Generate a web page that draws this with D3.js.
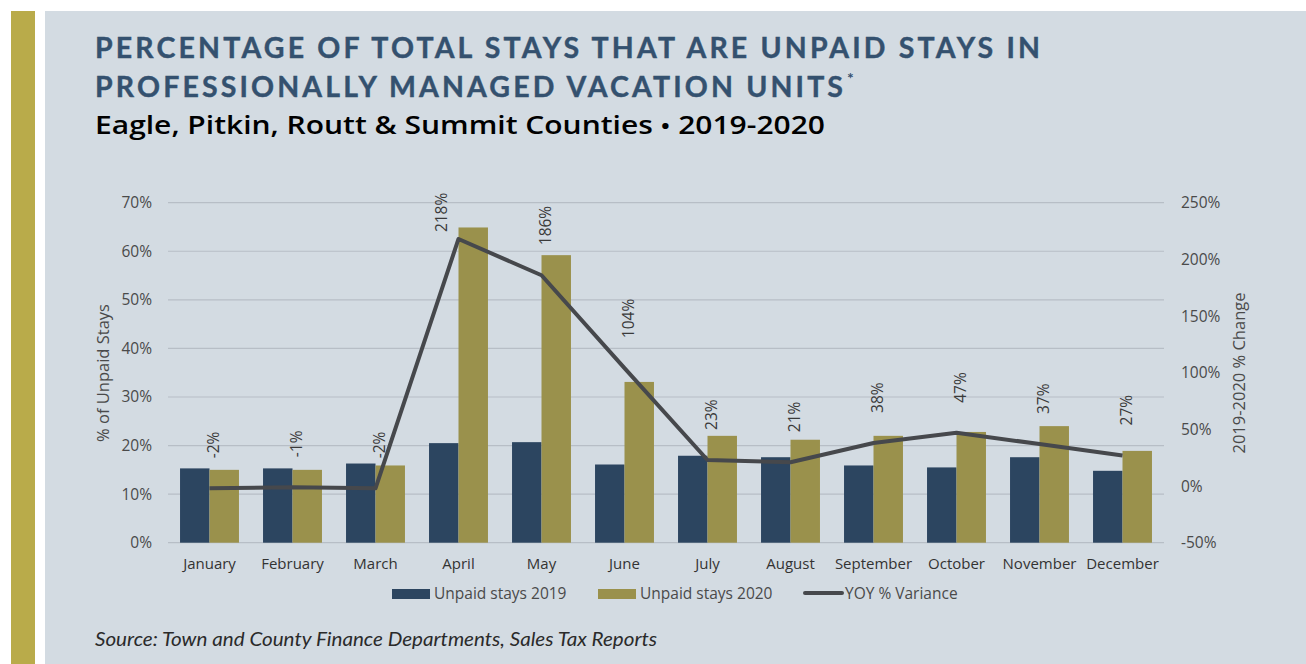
<!DOCTYPE html>
<html><head><meta charset="utf-8">
<script src="https://cdn.jsdelivr.net/npm/d3@7"></script>
<style>
html,body{margin:0;padding:0;background:#fff;}
svg{display:block;}
</style></head>
<body>
<svg id="chart" width="1306" height="664"></svg>
<script>
const months = ["January","February","March","April","May","June","July","August","September","October","November","December"];
const unpaid2019 = [15.3,15.3,16.3,20.5,20.7,16.1,17.9,17.6,15.9,15.5,17.6,14.8];
const unpaid2020 = [15.0,15.0,15.9,64.9,59.2,33.1,22.0,21.2,22.0,22.8,24.0,18.9];
const yoyVariance = [-2,-1,-2,218,186,104,23,21,38,47,37,27];
const leftTicks = [0,10,20,30,40,50,60,70];
const rightTicks = [-50,0,50,100,150,200,250];
const seriesNames = ["Unpaid stays 2019","Unpaid stays 2020","YOY % Variance"];

const C = {bg:"#d3dbe2", strip:"#b9ab4a", dark:"#2c4560", gold:"#9a914c", line:"#46484c", title:"#34516f", grid:"#b7bec6", text:"#4a4a4a"};
const svg = d3.select("#chart");

svg.append("rect").attr("x",0).attr("y",0).attr("width",1306).attr("height",664).attr("fill","#fff");
svg.append("rect").attr("x",11).attr("y",11).attr("width",24).attr("height",653).attr("fill",C.strip);
svg.append("rect").attr("x",45).attr("y",11).attr("width",1261).attr("height",653).attr("fill",C.bg);

// Titles
svg.append("text").attr("x",95).attr("y",58).attr("fill",C.title)
  .attr("font-family","Lato").attr("font-weight",700).attr("font-size",28.5)
  .attr("stroke",C.title).attr("stroke-width",0.4)
  .attr("textLength",945).attr("lengthAdjust","spacing")
  .text("PERCENTAGE OF TOTAL STAYS THAT ARE UNPAID STAYS IN");
svg.append("text").attr("x",95).attr("y",96.5).attr("fill",C.title)
  .attr("font-family","Lato").attr("font-weight",700).attr("font-size",28.5)
  .attr("stroke",C.title).attr("stroke-width",0.4)
  .attr("textLength",748).attr("lengthAdjust","spacing")
  .text("PROFESSIONALLY MANAGED VACATION UNITS");
svg.append("text").attr("x",847).attr("y",84).attr("fill",C.title)
  .attr("font-family","Lato").attr("font-weight",700).attr("font-size",16).text("*");
const sub = svg.append("text").attr("x",95).attr("y",134).attr("fill","#000")
  .attr("font-family","'Open Sans'").attr("font-weight",600).attr("font-size",25.5)
  .attr("textLength",730).attr("lengthAdjust","spacingAndGlyphs");
sub.append("tspan").text("Eagle, Pitkin, Routt & Summit Counties ");
sub.append("tspan").attr("font-size",22).text("\u2022");
sub.append("tspan").text(" 2019-2020");

// Scales
const x0 = 168, x1 = 1164, yTop = 202.7, yBot = 542.7;
const x = d3.scaleBand().domain(months).range([x0,x1]).paddingInner(0.29).paddingOuter(0.145);
const xc = d3.scaleBand().domain(months).range([x0,x1]);
const yL = d3.scaleLinear().domain([0,70]).range([yBot,yTop]);
const yR = d3.scaleLinear().domain([-50,250]).range([yBot,yTop]);
const inner = d3.scaleBand().domain([0,1]).range([0,x.bandwidth()]);

// Grid
svg.append("g").selectAll("line").data(leftTicks).join("line")
  .attr("x1",x0).attr("x2",x1).attr("y1",d=>yL(d)).attr("y2",d=>yL(d))
  .attr("stroke",C.grid).attr("stroke-width",1.2);

const font = "'Open Sans', sans-serif";
// Left axis
const gL = svg.append("g").attr("transform",`translate(${x0},0)`)
  .call(d3.axisLeft(yL).tickValues(leftTicks).tickFormat(d=>d+"%").tickSize(0).tickPadding(16));
gL.select(".domain").remove();
gL.selectAll("text").attr("font-family",font).attr("font-size",15.5).attr("fill",C.text);
// Right axis
const gR = svg.append("g").attr("transform",`translate(${x1},0)`)
  .call(d3.axisRight(yR).tickValues(rightTicks).tickFormat(d=>d+"%").tickSize(0).tickPadding(17));
gR.select(".domain").remove();
gR.selectAll("text").attr("font-family",font).attr("font-size",15.5).attr("fill",C.text);
// Bottom axis
const gB = svg.append("g").attr("transform",`translate(0,${yBot})`)
  .call(d3.axisBottom(xc).tickSize(0).tickPadding(16));
gB.select(".domain").remove();
gB.selectAll("text").attr("font-family",font).attr("font-size",15).attr("fill","#333");

// Axis titles
svg.append("text").attr("transform",`translate(109,373) rotate(-90)`).attr("text-anchor","middle")
  .attr("font-family",font).attr("font-size",16.5).attr("fill",C.text).text("% of Unpaid Stays");
svg.append("text").attr("transform",`translate(1245,373) rotate(-90)`).attr("text-anchor","middle")
  .attr("font-family",font).attr("font-size",16.5).attr("fill",C.text).text("2019-2020 % Change");

// Bars
const bars = svg.append("g");
bars.selectAll("rect.b19").data(months).join("rect").attr("class","b19")
  .attr("x",(d)=>x(d)+inner(0)).attr("width",inner.bandwidth())
  .attr("y",(d,i)=>yL(unpaid2019[i])).attr("height",(d,i)=>yBot-yL(unpaid2019[i]))
  .attr("fill",C.dark);
bars.selectAll("rect.b20").data(months).join("rect").attr("class","b20")
  .attr("x",(d)=>x(d)+inner(1)).attr("width",inner.bandwidth())
  .attr("y",(d,i)=>yL(unpaid2020[i])).attr("height",(d,i)=>yBot-yL(unpaid2020[i]))
  .attr("fill",C.gold);

// Line
const cx = d => xc(d) + xc.bandwidth()/2;
const lineGen = d3.line().x((d,i)=>cx(months[i])).y(d=>yR(d));
svg.append("path").datum(yoyVariance).attr("d",lineGen)
  .attr("fill","none").attr("stroke",C.line).attr("stroke-width",4).attr("stroke-linejoin","round");

// Data labels
const lbl = svg.append("g");
yoyVariance.forEach((v,i)=>{
  const t = lbl.append("text").attr("font-family",font).attr("font-size",15.5).attr("fill","#3a3a3a")
    .attr("dy","0.35em").text(v+"%");
  const L = t.node().getComputedTextLength();
  let bottom = yR(v) - 30, lx = cx(months[i]) + 4;
  if (bottom - L < yTop - 10) { bottom = yTop - 10 + L; lx = cx(months[i]) - 17; }
  t.attr("transform",`translate(${lx},${bottom}) rotate(-90)`);
});

// Legend
const lg = svg.append("g");
lg.append("rect").attr("x",392).attr("y",589).attr("width",38).attr("height",10).attr("fill",C.dark);
lg.append("text").attr("x",434).attr("y",594).attr("dy","0.35em").attr("font-family",font).attr("font-size",15.5).attr("fill",C.text).text(seriesNames[0]);
lg.append("rect").attr("x",598).attr("y",589).attr("width",38).attr("height",10).attr("fill",C.gold);
lg.append("text").attr("x",640).attr("y",594).attr("dy","0.35em").attr("font-family",font).attr("font-size",15.5).attr("fill",C.text).text(seriesNames[1]);
lg.append("line").attr("x1",805).attr("x2",842).attr("y1",593).attr("y2",593).attr("stroke",C.line).attr("stroke-width",4).attr("stroke-linecap","round");
lg.append("text").attr("x",845).attr("y",594).attr("dy","0.35em").attr("font-family",font).attr("font-size",15.5).attr("fill",C.text).text(seriesNames[2]);

// Source
svg.append("text").attr("x",95).attr("y",646).attr("font-family","Lato").attr("font-style","italic")
  .attr("font-weight",400).attr("font-size",19).attr("fill","#2a2a2a").attr("textLength",562).attr("lengthAdjust","spacingAndGlyphs")
  .text("Source: Town and County Finance Departments, Sales Tax Reports");
</script>
</body></html>
